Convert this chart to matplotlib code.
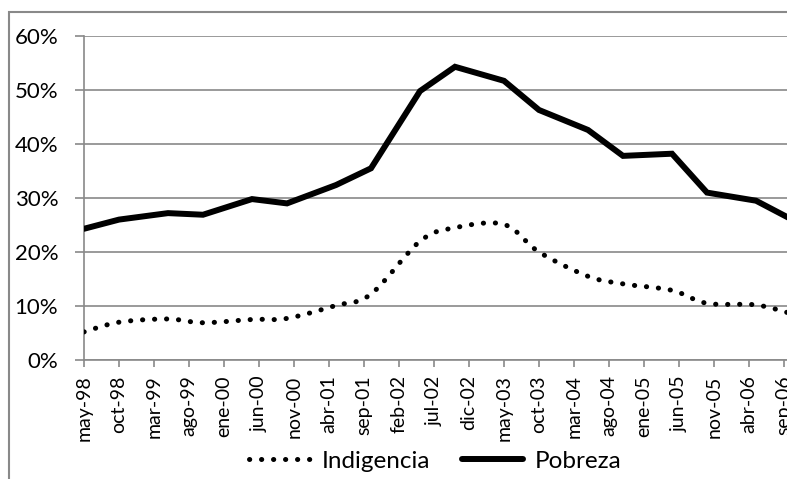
import numpy as np
import matplotlib
matplotlib.use("Agg")
import matplotlib.pyplot as plt
from matplotlib.path import Path
from matplotlib.patches import PathPatch, Rectangle
from matplotlib.lines import Line2D
from matplotlib.ticker import PercentFormatter

# fechas de cada medicion (mayo y octubre)
fechas = ["1998-05", "1998-10", "1999-05", "1999-10", "2000-05", "2000-10",
          "2001-05", "2001-10", "2002-05", "2002-10", "2003-05", "2003-10",
          "2004-05", "2004-10", "2005-05", "2005-10", "2006-05", "2006-10"]
pobreza = [24.3, 26.0, 27.2, 26.9, 29.8, 29.0, 32.4, 35.5, 49.8, 54.3,
           51.7, 46.3, 42.6, 37.8, 38.2, 31.0, 29.5, 26.1]
indigencia = [5.2, 7.0, 7.6, 6.9, 7.5, 7.7, 10.1, 12.2, 22.0, 24.5,
              25.1, 20.0, 15.5, 14.1, 12.9, 10.5, 10.2, 8.6]
# etiquetas del eje, una cada 5 meses desde may-98
etiquetas = ["may-98", "oct-98", "mar-99", "ago-99", "ene-00", "jun-00", "nov-00",
             "abr-01", "sep-01", "feb-02", "jul-02", "dic-02", "may-03", "oct-03",
             "mar-04", "ago-04", "ene-05", "jun-05", "nov-05", "abr-06", "sep-06"]

GRIS = "#898989"
plt.rcParams["font.family"] = ["Lato", "DejaVu Sans"]


# meses transcurridos desde mayo de 1998
def meses(f):
    anio, mes = f.split("-")
    return (int(anio) - 1998) * 12 + int(mes) - 5


# curva suavizada tipo Excel (bezier por Catmull-Rom)
def curva_suave(x, y):
    pts = np.column_stack([x, y])
    verts = [pts[0]]
    codes = [Path.MOVETO]
    n = len(pts)
    for i in range(n - 1):
        p0 = pts[max(i - 1, 0)]
        p1 = pts[i]
        p2 = pts[i + 1]
        p3 = pts[min(i + 2, n - 1)]
        verts += [p1 + (p2 - p0) / 6, p2 - (p3 - p1) / 6, p2]
        codes += [Path.CURVE4] * 3
    return Path(verts, codes)


x = np.array([meses(f) for f in fechas], dtype=float)

fig = plt.figure(figsize=(7.87, 4.79), dpi=100)
ax = fig.add_axes([84 / 787, 1 - 360 / 479, 1 - 84 / 787, (360 - 36) / 479])

punteado = (0, (0.05, 2.35))
ax.add_patch(PathPatch(curva_suave(x, indigencia), fill=False, edgecolor="black",
                       lw=3.6, linestyle=punteado, capstyle="round", zorder=3))
ax.plot(x, pobreza, color="black", lw=4.3, solid_capstyle="round",
        solid_joinstyle="miter", zorder=4)

ax.set_xlim(0, 703 / 7)
ax.set_ylim(0, 60)
ax.set_yticks(range(0, 61, 10))
ax.yaxis.set_major_formatter(PercentFormatter(decimals=0))
ax.set_xticks(np.arange(len(etiquetas)) * 5)
ax.set_xticklabels(etiquetas, rotation=90)
ax.grid(axis="y", color=GRIS, lw=1.2)
ax.set_axisbelow(True)

for lado in ["top", "right"]:
    ax.spines[lado].set_visible(False)
for lado in ["left", "bottom"]:
    ax.spines[lado].set_color(GRIS)
    ax.spines[lado].set_linewidth(1.2)

ax.tick_params(axis="y", length=6.5, width=1.2, color=GRIS, pad=12, labelsize=16)
ax.tick_params(axis="x", length=5, width=1.2, color=GRIS, pad=6, labelsize=14)

h_ind = Line2D([], [], color="black", lw=3.6, linestyle=punteado,
               dash_capstyle="round")
h_pob = Line2D([], [], color="black", lw=4.3, solid_capstyle="round")
fig.legend([h_ind, h_pob], ["Indigencia", "Pobreza"], loc="center",
           bbox_to_anchor=(435.5 / 787, 1 - 461 / 479), ncol=2, frameon=False,
           fontsize=17.5, handlelength=2.5, handletextpad=0.5, columnspacing=1.3)

# borde del area del grafico
fig.add_artist(Rectangle((9 / 787, -0.1), 1.2, 1.1 - 12 / 479,
                         transform=fig.transFigure, fill=False,
                         edgecolor=GRIS, lw=1.5))

fig.savefig("out.png", dpi=100)
